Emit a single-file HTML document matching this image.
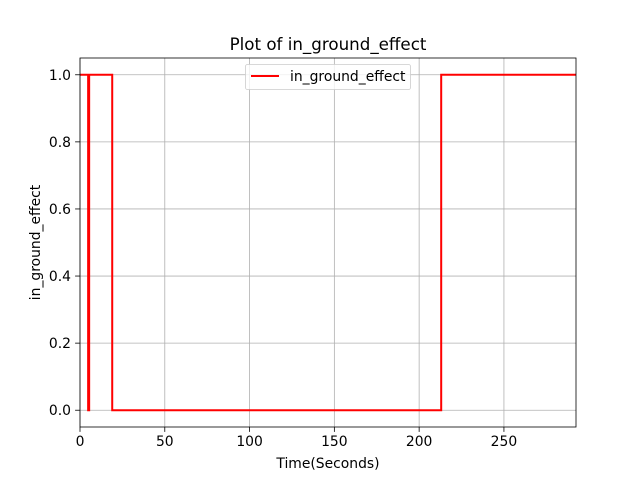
<!DOCTYPE html>
<html><head><meta charset="utf-8"><style>body{margin:0;background:#fff}svg{display:block;font-family:"DejaVu Sans","Liberation Sans",sans-serif}</style></head>
<body>
<svg id="c" width="640" height="480"></svg>
<script>
const times=[0,4.8,5.4,19,213,292.5];
const values=[1,0,1,0,1,1];
const xTicks=[0,50,100,150,200,250];
const yTicks=[0,0.2,0.4,0.6,0.8,1.0];
const L=80,R=576,T=58,B=427,xmin=0,xmax=292.5,ymin=-0.05,ymax=1.05;
const X=v=>L+(v-xmin)/(xmax-xmin)*(R-L);
const Y=v=>B-(v-ymin)/(ymax-ymin)*(B-T);
const s=document.getElementById('c');const NS='http://www.w3.org/2000/svg';
function add(tag,attrs,txt){const e=document.createElementNS(NS,tag);for(const k in attrs)e.setAttribute(k,attrs[k]);if(txt!=null)e.textContent=txt;s.appendChild(e);return e;}
xTicks.forEach(t=>{const g=add('line',{x1:X(t),x2:X(t),y1:T,y2:B,stroke:'#b0b0b0','stroke-width':0.8});
const k=add('line',{x1:X(t),x2:X(t),y1:B,y2:B+4.9,stroke:'#000','stroke-width':0.8});
const l=add('text',{x:X(t),y:B+19,'text-anchor':'middle','font-size':13.9},String(t));});
yTicks.forEach(t=>{const g=add('line',{x1:L,x2:R,y1:Y(t),y2:Y(t),stroke:'#b0b0b0','stroke-width':0.8});
const k=add('line',{x1:L-4.9,x2:L,y1:Y(t),y2:Y(t),stroke:'#000','stroke-width':0.8});
const l=add('text',{x:L-9,y:Y(t)+5,'text-anchor':'end','font-size':13.9},t.toFixed(1));});
let d='';for(let i=0;i<times.length;i++){d+=(i?'L':'M')+X(times[i])+','+Y(i?values[i-1]:values[0]);if(i)d+='L'+X(times[i])+','+Y(values[i]);}
const p=add('path',{d:d,fill:'none',stroke:'#ff0000','stroke-width':2});
const f=add('rect',{x:L,y:T,width:R-L,height:B-T,fill:'none',stroke:'#000','stroke-width':0.8});
const ti=add('text',{x:(L+R)/2,y:50,'text-anchor':'middle','font-size':16.7},'Plot of in_ground_effect');
const xl=add('text',{x:(L+R)/2,y:468,'text-anchor':'middle','font-size':13.9},'Time(Seconds)');
const yl=add('text',{x:40,y:(T+B)/2,'text-anchor':'middle','font-size':13.9,transform:'rotate(-90 40 '+(T+B)/2+')'},'in_ground_effect');
const lg=add('rect',{x:245.5,y:64.5,width:165,height:25,rx:2,fill:'#fff','fill-opacity':0.8,stroke:'#ccc','stroke-width':0.8});
const ll=add('line',{x1:251,x2:279,y1:76,y2:76,stroke:'#ff0000','stroke-width':2});
const lt=add('text',{x:290,y:81,'font-size':13.9},'in_ground_effect');
</script>
</body></html>
